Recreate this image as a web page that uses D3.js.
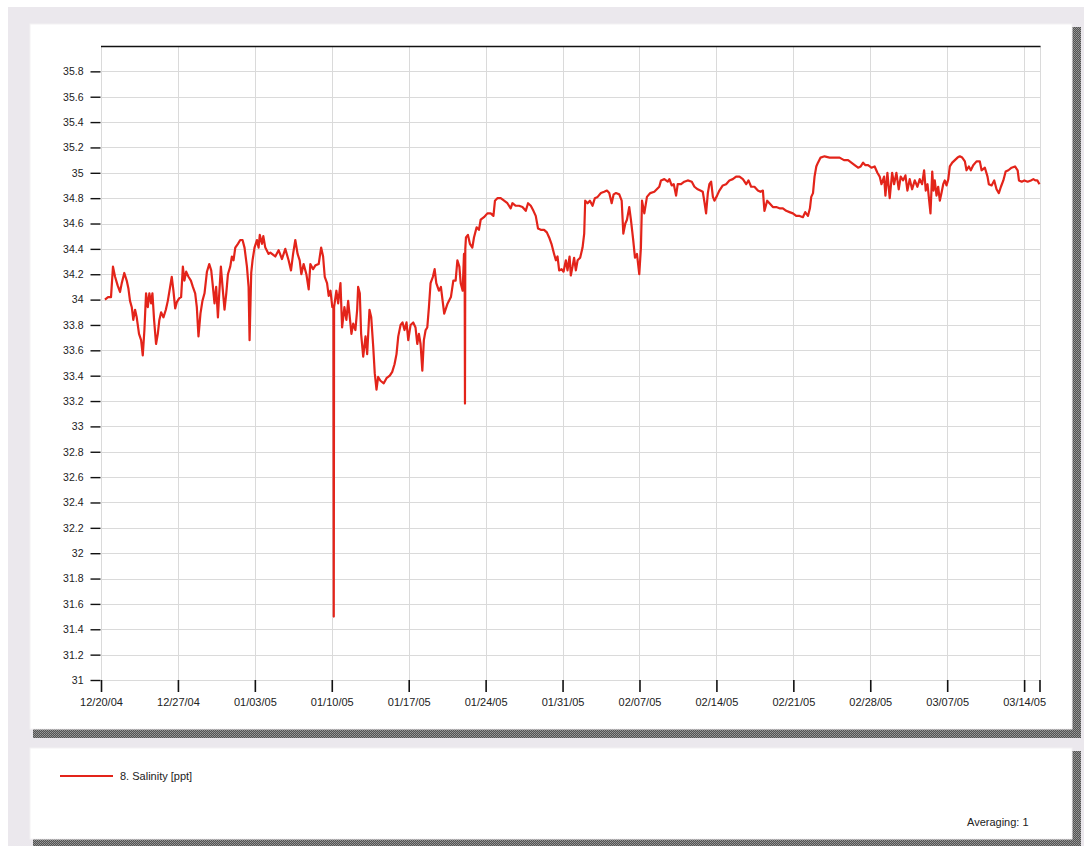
<!DOCTYPE html>
<html>
<head>
<meta charset="utf-8">
<script src="https://cdn.jsdelivr.net/npm/d3@7"></script>
<style>
  html, body { margin: 0; padding: 0; background: #fff; }
  svg { display: block; font-family: "Liberation Sans", Arial, sans-serif; }
</style>
</head>
<body>
<svg id="chart" width="1084" height="846"></svg>
<script>
// ---- Data -------------------------------------------------------------
const seriesName = "8. Salinity [ppt]";
const averagingNote = "Averaging: 1";
const startDate = "12/20/04";       // logger record start
const spanDays = 85.4;              // record length shown on the time axis

const xTickLabels = ["12/20/04", "12/27/04", "01/03/05", "01/10/05", "01/17/05",
  "01/24/05", "01/31/05", "02/07/05", "02/14/05", "02/21/05", "02/28/05",
  "03/07/05", "03/14/05"];

const yTickValues = [31, 31.2, 31.4, 31.6, 31.8, 32, 32.2, 32.4, 32.6, 32.8, 33,
  33.2, 33.4, 33.6, 33.8, 34, 34.2, 34.4, 34.6, 34.8, 35, 35.2, 35.4, 35.6, 35.8];

// elapsed time since the record start, in days
const elapsedDays = [
  0.36, 0.64, 0.91, 1.09, 1.28, 1.52, 1.73, 1.89, 2.12, 2.34, 2.49, 2.64, 2.80, 2.94,
  3.10, 3.25, 3.46, 3.65, 3.80, 3.95, 4.10, 4.26, 4.40, 4.56, 4.68, 4.83, 5.01, 5.17,
  5.31, 5.47, 5.68, 5.90, 6.08, 6.29, 6.44, 6.59, 6.75, 6.90, 7.11, 7.29, 7.45, 7.59,
  7.75, 7.96, 8.18, 8.36, 8.57, 8.72, 8.87, 9.05, 9.23, 9.42, 9.64, 9.85, 10.03, 10.15,
  10.33, 10.48, 10.64, 10.76, 10.91, 11.06, 11.24, 11.40, 11.55, 11.76, 11.91, 12.06,
  12.22, 12.46, 12.67, 12.88, 13.06, 13.28, 13.43, 13.52, 13.67, 13.79, 13.97, 14.19,
  14.34, 14.45, 14.65, 14.77, 14.95, 15.25, 15.41, 15.86, 16.16, 16.47, 16.77, 17.07,
  17.29, 17.48, 17.68, 17.89, 18.08, 18.23, 18.44, 18.69, 18.90, 19.05, 19.30, 19.51,
  19.81, 20.03, 20.21, 20.36, 20.57, 20.72, 20.88, 21.05, 21.15, 21.18, 21.21, 21.42,
  21.58, 21.79, 21.94, 22.15, 22.33, 22.49, 22.64, 22.79, 22.95, 23.15, 23.31, 23.40,
  23.55, 23.67, 23.86, 24.07, 24.22, 24.43, 24.59, 24.77, 24.91, 25.07, 25.22, 25.43,
  25.73, 25.98, 26.28, 26.50, 26.71, 26.89, 27.05, 27.26, 27.44, 27.62, 27.80, 27.96,
  28.17, 28.41, 28.62, 28.78, 28.93, 29.08, 29.24, 29.38, 29.54, 29.69, 29.84, 29.99,
  30.20, 30.36, 30.51, 30.75, 30.93, 31.23, 31.54, 31.84, 32.06, 32.27, 32.43, 32.61,
  32.73, 32.91, 33.03, 33.09, 33.12, 33.15, 33.21, 33.39, 33.57, 33.79, 33.94, 34.18,
  34.39, 34.55, 34.85, 35.16, 35.46, 35.71, 35.85, 36.07, 36.37, 36.68, 36.98, 37.28,
  37.44, 37.74, 38.04, 38.35, 38.65, 38.86, 39.11, 39.35, 39.56, 39.77, 40.02, 40.32,
  40.57, 40.78, 40.99, 41.23, 41.39, 41.54, 41.69, 41.91, 42.09, 42.30, 42.45, 42.64,
  42.75, 42.91, 43.05, 43.21, 43.37, 43.60, 43.82, 43.97, 44.06, 44.28, 44.49, 44.73,
  44.94, 45.19, 45.49, 45.79, 46.04, 46.25, 46.47, 46.65, 46.86, 47.16, 47.38, 47.53,
  47.71, 47.86, 48.07, 48.22, 48.43, 48.59, 48.77, 48.98, 49.13, 49.23, 49.44, 49.68,
  49.98, 50.35, 50.80, 50.96, 51.26, 51.57, 51.72, 51.93, 52.12, 52.33, 52.48, 52.78,
  53.08, 53.39, 53.76, 54.00, 54.30, 54.54, 54.76, 54.91, 55.06, 55.22, 55.36, 55.52,
  55.68, 55.82, 56.06, 56.27, 56.58, 56.88, 57.18, 57.49, 57.79, 58.10, 58.41, 58.71,
  58.92, 59.16, 59.46, 59.77, 60.01, 60.23, 60.37, 60.62, 60.83, 61.14, 61.44, 61.74,
  62.05, 62.35, 62.65, 62.96, 63.26, 63.57, 63.87, 64.08, 64.33, 64.51, 64.63, 64.79,
  64.93, 65.09, 65.24, 65.48, 65.84, 66.30, 66.76, 67.21, 67.61, 67.98, 68.28, 68.58,
  68.89, 69.13, 69.35, 69.56, 69.80, 70.10, 70.40, 70.65, 70.86, 71.02, 71.26, 71.38,
  71.56, 71.77, 71.99, 72.17, 72.38, 72.59, 72.77, 72.99, 73.20, 73.38, 73.59, 73.81,
  74.05, 74.29, 74.50, 74.72, 74.90, 75.05, 75.21, 75.36, 75.48, 75.64, 75.75, 75.87,
  76.03, 76.18, 76.33, 76.48, 76.64, 76.78, 76.94, 77.10, 77.24, 77.46, 77.70, 77.94,
  78.15, 78.37, 78.61, 78.76, 78.97, 79.15, 79.37, 79.67, 79.97, 80.13, 80.43, 80.67,
  80.79, 81.04, 81.28, 81.49, 81.70, 81.89, 82.11, 82.32, 82.57, 82.86, 83.17, 83.41,
  83.53, 83.78, 84.02, 84.32, 84.62, 84.84, 85.02, 85.20, 85.40
];

// salinity readings, ppt
const salinityPpt = [
  34.00, 34.02, 34.02, 34.26, 34.18, 34.11, 34.06, 34.13, 34.21, 34.15, 34.09, 33.99, 33.94, 33.84,
  33.92, 33.86, 33.73, 33.68, 33.56, 33.76, 34.05, 33.94, 34.05, 33.97, 34.05, 33.84, 33.65, 33.73,
  33.84, 33.90, 33.86, 33.92, 33.99, 34.10, 34.18, 34.07, 33.93, 33.98, 34.01, 34.02, 34.26, 34.15,
  34.22, 34.18, 34.15, 34.10, 34.05, 33.94, 33.71, 33.89, 33.99, 34.05, 34.22, 34.28, 34.23, 34.13,
  33.97, 34.10, 33.86, 34.05, 34.26, 34.10, 33.92, 34.05, 34.20, 34.26, 34.34, 34.31,
  34.41, 34.44, 34.47, 34.47, 34.41, 34.26, 34.10, 33.68, 34.21, 34.31, 34.41, 34.47,
  34.41, 34.51, 34.44, 34.50, 34.41, 34.36, 34.37, 34.34, 34.39, 34.32, 34.40, 34.31,
  34.23, 34.36, 34.47, 34.36, 34.31, 34.20, 34.28, 34.20, 34.08, 34.28, 34.24, 34.27,
  34.28, 34.41, 34.34, 34.18, 34.13, 34.03, 34.07, 33.94, 33.94, 31.50, 33.94, 34.07,
  33.97, 34.13, 33.78, 33.94, 33.84, 33.99, 33.86, 33.73, 33.81, 33.76, 33.92, 34.10,
  34.05, 33.73, 33.55, 33.71, 33.57, 33.92, 33.86, 33.63, 33.42, 33.29, 33.39, 33.36,
  33.34, 33.38, 33.40, 33.43, 33.49, 33.57, 33.71, 33.80, 33.82, 33.76, 33.82, 33.68,
  33.80, 33.82, 33.78, 33.65, 33.73, 33.65, 33.44, 33.68, 33.76, 33.78, 33.94, 34.13,
  34.18, 34.24, 34.13, 34.07, 34.10, 33.89, 33.97, 34.02, 34.15, 34.15, 34.31, 34.26,
  34.13, 34.07, 34.36, 34.30, 33.18, 34.40, 34.49, 34.51, 34.44, 34.41, 34.49, 34.57,
  34.55, 34.63, 34.65, 34.68, 34.68, 34.66, 34.78, 34.80, 34.80, 34.78, 34.76, 34.72,
  34.76, 34.74, 34.74, 34.73, 34.70, 34.76, 34.74, 34.70, 34.66, 34.56, 34.55, 34.55,
  34.53, 34.49, 34.44, 34.36, 34.31, 34.34, 34.23, 34.24, 34.22, 34.31, 34.23, 34.34,
  34.19, 34.26, 34.33, 34.23, 34.31, 34.33, 34.41, 34.52, 34.78, 34.76, 34.78, 34.74,
  34.80, 34.81, 34.84, 34.85, 34.86, 34.84, 34.76, 34.83, 34.84, 34.83, 34.78, 34.52,
  34.60, 34.63, 34.73, 34.63, 34.47, 34.33, 34.36, 34.20, 34.41, 34.78, 34.68, 34.81,
  34.84, 34.85, 34.89, 34.94, 34.95, 34.93, 34.95, 34.90, 34.91, 34.82, 34.91, 34.91,
  34.93, 34.94, 34.93, 34.89, 34.87, 34.86, 34.85, 34.77, 34.68, 34.84, 34.91, 34.93,
  34.81, 34.78, 34.82, 34.86, 34.90, 34.91, 34.94, 34.95, 34.97, 34.97, 34.95, 34.91,
  34.94, 34.89, 34.89, 34.86, 34.85, 34.86, 34.70, 34.78, 34.76, 34.73, 34.73, 34.72,
  34.72, 34.70, 34.69, 34.68, 34.66, 34.66, 34.65, 34.69, 34.66, 34.72, 34.81, 34.84,
  34.97, 35.05, 35.08, 35.12, 35.13, 35.12, 35.12, 35.12, 35.10, 35.10, 35.08, 35.06,
  35.04, 35.05, 35.08, 35.06, 35.06, 35.04, 35.05, 35.00, 34.97, 34.91, 34.97, 34.82,
  35.00, 34.80, 35.00, 34.91, 35.00, 34.87, 34.97, 34.94, 34.98, 34.86, 34.95, 34.87,
  34.94, 34.89, 34.95, 34.91, 35.02, 34.86, 34.91, 34.78, 34.68, 35.01, 34.86, 34.94,
  34.82, 34.89, 34.78, 34.84, 34.91, 34.94, 34.90, 34.95, 35.05, 35.08, 35.10, 35.12,
  35.13, 35.12, 35.09, 35.02, 35.05, 35.02, 35.06, 35.09, 35.09, 35.02, 35.04, 34.97,
  34.91, 34.90, 34.94, 34.87, 34.84, 34.89, 34.94, 35.01, 35.02, 35.04, 35.05, 35.02,
  34.94, 34.93, 34.94, 34.93, 34.94, 34.95, 34.94, 34.94, 34.91
];

// ---- Drawing ----------------------------------------------------------
const svg = d3.select("#chart");
const parseLabel = d3.utcParse("%m/%d/%y");
const t0 = parseLabel(startDate);
const DAY = 864e5;
const tEnd = new Date(t0.getTime() + spanDays * DAY);

const plot = { left: 101, right: 1039.5, top: 46, bottom: 680 };

const x = d3.scaleUtc().domain([t0, tEnd]).range([plot.left, plot.right]);
const y = d3.scaleLinear().domain([31, 36]).range([plot.bottom, plot.top]);

const records = elapsedDays.map((d, i) => ({
  time: new Date(t0.getTime() + d * DAY),
  value: salinityPpt[i]
}));

// page and panel frames
const defs = svg.append("defs");
const hatch = defs.append("pattern")
  .attr("id", "shadowHatch").attr("patternUnits", "userSpaceOnUse")
  .attr("width", 2).attr("height", 2);
hatch.append("rect").attr("width", 2).attr("height", 2).attr("fill", "#525252");
hatch.append("rect").attr("width", 1).attr("height", 1).attr("fill", "#9a9a9a");
hatch.append("rect").attr("x", 1).attr("y", 1).attr("width", 1).attr("height", 1).attr("fill", "#8a8a8a");

svg.append("rect").attr("x", 8).attr("y", 7).attr("width", 1076).attr("height", 839)
  .attr("fill", "#ebe8ed");

function panel(px, py, pw, ph) {
  svg.append("rect").attr("x", px + pw).attr("y", py + 3).attr("width", 9).attr("height", ph + 6)
    .attr("fill", "url(#shadowHatch)");
  svg.append("rect").attr("x", px + 3).attr("y", py + ph).attr("width", pw + 6).attr("height", 9)
    .attr("fill", "url(#shadowHatch)");
  svg.append("rect").attr("x", px).attr("y", py).attr("width", pw).attr("height", ph)
    .attr("fill", "#fff").attr("stroke", "#f4f2f4").attr("stroke-width", 1);
}
panel(30, 24, 1042, 705);
panel(30, 748, 1042, 91);

// grid
const tickDates = xTickLabels.map(parseLabel);
const grid = svg.append("g").attr("stroke", "#dadada").attr("stroke-width", 1)
  .attr("shape-rendering", "crispEdges");
grid.selectAll("line.h").data(yTickValues).join("line")
  .attr("x1", plot.left).attr("x2", plot.right)
  .attr("y1", d => Math.round(y(d)) + 0.5).attr("y2", d => Math.round(y(d)) + 0.5);
grid.selectAll("line.v").data([t0, ...tickDates.slice(1), tEnd]).join("line")
  .attr("x1", d => Math.round(x(d)) + 0.5).attr("x2", d => Math.round(x(d)) + 0.5)
  .attr("y1", plot.top).attr("y2", plot.bottom);

// top frame line
svg.append("line")
  .attr("x1", plot.left).attr("x2", plot.right + 1)
  .attr("y1", plot.top + 0.5).attr("y2", plot.top + 0.5)
  .attr("stroke", "#111").attr("stroke-width", 1.3);

// y axis
const fmtY = d => String(+d.toFixed(1));
const yAxis = svg.append("g").attr("transform", `translate(${plot.left - 0.5},0)`)
  .call(d3.axisLeft(y).tickValues(yTickValues).tickSize(10).tickPadding(7).tickFormat(fmtY));
yAxis.select(".domain").remove();
yAxis.selectAll(".tick line").attr("stroke", "#111").attr("stroke-width", 1.4);
yAxis.selectAll(".tick text").attr("fill", "#222").style("font-size", "10.5px")
  .style("font-family", "'Liberation Sans', Arial, sans-serif");

// x axis
const fmtX = d3.utcFormat("%m/%d/%y");
const xAxis = svg.append("g").attr("transform", `translate(0,${plot.bottom})`)
  .call(d3.axisBottom(x).tickValues([...tickDates, tEnd]).tickSize(12).tickPadding(6)
    .tickFormat(d => (d === tEnd ? "" : fmtX(d))));
xAxis.select(".domain").remove();
xAxis.selectAll(".tick line").attr("stroke", "#111").attr("stroke-width", 1.6);
xAxis.selectAll(".tick text").attr("fill", "#222").style("font-size", "11px")
  .style("font-family", "'Liberation Sans', Arial, sans-serif");

// salinity trace
const line = d3.line().x(d => x(d.time)).y(d => y(d.value));
svg.append("path").datum(records)
  .attr("d", line)
  .attr("fill", "none")
  .attr("stroke", "#e3241a")
  .attr("stroke-width", 2.2)
  .attr("stroke-linejoin", "round");

// legend panel
svg.append("line").attr("x1", 60).attr("x2", 113).attr("y1", 776).attr("y2", 776)
  .attr("stroke", "#e3241a").attr("stroke-width", 2);
svg.append("text").attr("x", 120).attr("y", 780).attr("fill", "#222")
  .style("font-size", "11px").text(seriesName);
svg.append("text").attr("x", 967).attr("y", 826).attr("fill", "#222")
  .style("font-size", "11px").text(averagingNote);
</script>
</body>
</html>
